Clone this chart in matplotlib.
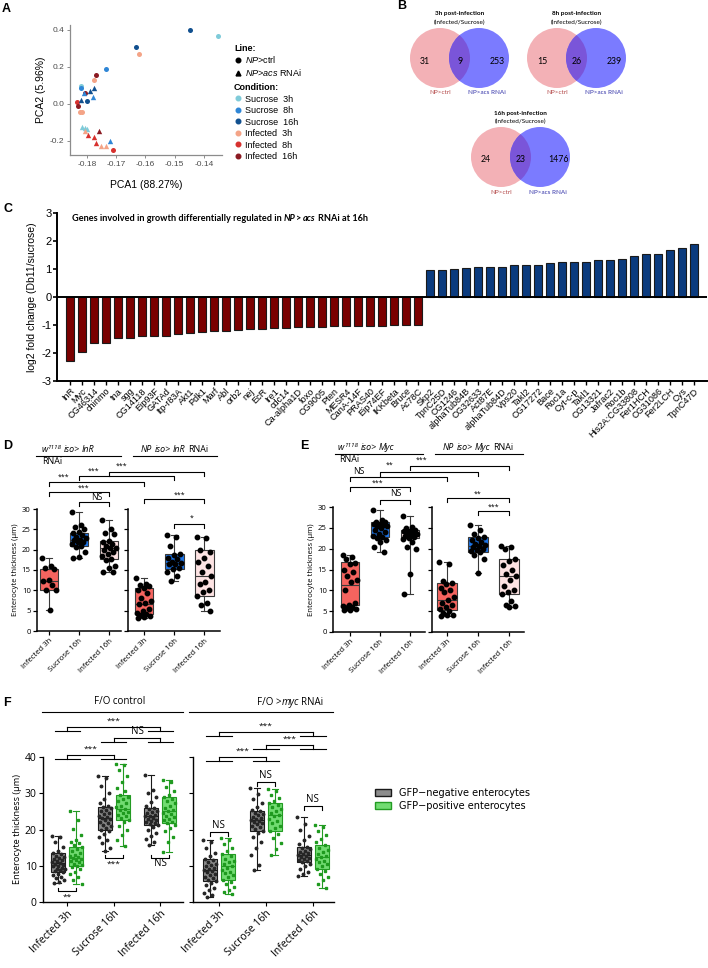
import numpy as np
import matplotlib
matplotlib.use('Agg')
import matplotlib.pyplot as plt
from matplotlib.lines import Line2D
from matplotlib.patches import Circle, Patch

plt.rcParams['font.family'] = ['Open Sans', 'DejaVu Sans']
plt.rcParams['axes.unicode_minus'] = False
plt.rcParams['mathtext.fontset'] = 'custom'
plt.rcParams['mathtext.rm'] = 'Liberation Sans'
plt.rcParams['mathtext.it'] = 'Liberation Sans:italic'
plt.rcParams['mathtext.bf'] = 'Liberation Sans:bold'

ARIAL = ['Liberation Sans', 'DejaVu Sans']
CALIBRI = ['Lato', 'DejaVu Sans']

# ---------------- data ----------------
# A: PCA
pca_conditions = ['Sucrose  3h', 'Sucrose  8h', 'Sucrose  16h',
                  'Infected  3h', 'Infected  8h', 'Infected  16h']
pca_colors = ['#7fcbd9', '#2f86d6', '#11508f', '#f4a487', '#d7312e', '#8b1a22']
ctrl_x = [-0.1448, -0.1631, -0.1799, -0.1351, -0.1819, -0.1734, -0.1822, -0.1622,
          -0.1777, -0.1823, -0.1818, -0.1834, -0.1711, -0.1768, -0.1805, -0.1829]
ctrl_y = [0.400, 0.306, 0.018, 0.369, 0.096, 0.189, 0.089, 0.270,
          0.130, -0.042, -0.042, 0.011, -0.250, 0.159, 0.060, -0.012]
ctrl_cond = [2, 2, 2, 0, 0, 1, 1, 3, 3, 3, 3, 4, 4, 5, 5, 5]
acs_x = [-0.1811, -0.1779, -0.1722, -0.1789, -0.1819, -0.1777, -0.1816, -0.1808,
         -0.1800, -0.1805, -0.1753, -0.1736, -0.1797, -0.1776, -0.1770, -0.1759]
acs_y = [0.060, 0.039, -0.200, 0.071, 0.024, 0.089, -0.124, -0.128,
         -0.133, -0.148, -0.229, -0.229, -0.166, -0.178, -0.211, -0.146]
acs_cond = [1, 1, 1, 2, 2, 2, 0, 0, 0, 3, 3, 3, 4, 4, 4, 5]

# B: Venn counts
venn_titles = ['3h post-infection', '8h post-infection', '16h post-infection']
venn_ctrl_only = [31, 15, 24]
venn_both = [9, 26, 23]
venn_acs_only = [253, 239, 1476]

# C: log2 fold change
genes = ['InR', 'Myc', 'CG46314', 'chinmo', 'tna', 'sgg', 'CG14118', 'Eip93F', 'GATAd',
         'Itp-r83A', 'Akt1', 'Pdk1', 'Marf', 'Abl', 'orb2', 'nej', 'EcR', 'Ire1', 'cdc14',
         'Ca-alpha1D', 'foxo', 'CG9005', 'Pten', 'MESR4', 'CanA-14F', 'PRAS40', 'Eip74EF',
         'IKKbeta', 'Bruce', 'Ac78C', 'Skp2', 'TpnC25D', 'CG1246', 'alphaTub84B', 'CG32633',
         'Act87E', 'alphaTub84D', 'Vps20', 'Takl2', 'CG17272', 'Bace', 'Roc1a', 'Cyt-c-p',
         'Takl1', 'CG13321', 'Jafrac2', 'Roc1b', 'His2A:CG33808', 'Fer1HCH', 'CG31086',
         'Fer2LCH', 'Cys', 'TpnC47D']
log2fc = [-2.29, -1.96, -1.65, -1.65, -1.45, -1.45, -1.41, -1.39, -1.38, -1.32, -1.29,
          -1.24, -1.22, -1.21, -1.18, -1.16, -1.15, -1.11, -1.09, -1.08, -1.08, -1.06,
          -1.05, -1.04, -1.04, -1.04, -1.03, -1.01, -1.01, -1.00,
          0.98, 0.98, 1.01, 1.05, 1.06, 1.06, 1.06, 1.13, 1.15, 1.16, 1.22, 1.24, 1.25,
          1.25, 1.31, 1.31, 1.36, 1.46, 1.55, 1.55, 1.69, 1.76, 1.91]

# D / E / F: enterocyte thickness
groups = ['Infected 3h', 'Sucrose 16h', 'Infected 16h']
box_colors = ['#f5645f', '#1c74e6', '#fde3e3']

d_ctrl_box = [(5.2, 10.0, 12.4, 15.2, 18.0), (18.0, 21.0, 22.3, 24.0, 29.2),
              (14.5, 17.8, 20.3, 22.2, 27.2)]
d_ctrl_pts = [[18.0, 16.1, 15.6, 15.2, 12.5, 12.2, 11.3, 10.1, 10.0, 5.2],
              [29.2, 26.0, 25.6, 25.0, 24.4, 24.0, 23.6, 23.1, 22.8, 22.5, 22.3, 22.0,
               21.8, 21.4, 21.0, 20.6, 19.5, 18.2, 18.0],
              [27.2, 25.0, 24.0, 23.9, 22.2, 22.0, 21.5, 21.0, 20.5, 20.3, 20.0, 19.5,
               18.9, 18.4, 17.8, 17.5, 16.0, 15.5, 14.6, 14.5]]
d_rnai_box = [(3.3, 4.3, 6.7, 10.5, 13.0), (12.2, 15.3, 16.8, 19.0, 23.5),
              (4.9, 8.7, 13.6, 19.8, 23.0)]
d_rnai_pts = [[13.0, 11.6, 11.4, 11.0, 10.5, 10.0, 9.4, 8.0, 7.5, 6.8, 6.7, 5.5, 5.0,
               4.5, 4.2, 4.0, 3.8, 3.5, 3.3],
              [23.5, 23.2, 21.0, 19.0, 18.6, 18.0, 17.8, 17.0, 16.8, 16.5, 16.4, 15.5,
               15.3, 14.6, 13.5, 12.2],
              [23.0, 22.8, 20.0, 19.5, 18.0, 17.0, 16.0, 14.5, 13.6, 12.0, 11.5, 10.0,
               9.5, 8.7, 7.0, 6.5, 4.9]]
e_ctrl_box = [(5.2, 6.5, 11.2, 16.7, 18.5), (19.2, 22.8, 25.5, 26.5, 29.2),
              (9.2, 22.5, 23.8, 24.5, 27.8)]
e_ctrl_pts = [[18.5, 18.0, 17.5, 16.5, 16.3, 15.0, 14.5, 13.5, 12.5, 12.0, 10.2, 7.0,
               6.5, 6.3, 6.0, 5.8, 5.5, 5.3, 5.2],
              [29.2, 27.0, 26.5, 26.3, 26.0, 26.0, 25.8, 25.5, 25.5, 25.0, 24.5, 24.0,
               23.5, 23.0, 22.8, 22.5, 22.0, 21.5, 20.5, 19.2],
              [27.8, 25.2, 25.0, 24.5, 24.3, 24.2, 24.0, 23.8, 23.5, 23.3, 23.0, 22.8,
               22.5, 22.3, 21.5, 20.5, 20.0, 14.0, 9.2]]
e_rnai_box = [(3.8, 5.2, 7.7, 11.8, 16.7), (14.1, 19.1, 20.6, 22.7, 25.8),
              (5.9, 9.1, 13.4, 17.5, 20.7)]
e_rnai_pts = [[16.7, 16.3, 12.2, 11.8, 11.5, 10.5, 10.0, 9.5, 8.5, 7.7, 7.0, 6.5, 6.0,
               5.5, 5.0, 4.5, 4.2, 4.0, 3.8],
              [25.8, 24.5, 23.5, 22.8, 22.5, 22.0, 21.5, 21.2, 21.0, 20.6, 20.5, 20.0,
               19.8, 19.5, 19.1, 18.5, 17.5, 14.1],
              [20.7, 20.5, 20.0, 17.5, 17.0, 16.0, 15.0, 14.0, 13.4, 12.5, 11.0, 10.0,
               9.5, 9.1, 7.5, 6.5, 6.2, 5.9]]

f_ctrl_neg_box = [(5.2, 8.2, 10.8, 13.5, 18.3), (14.2, 20.0, 23.2, 26.1, 34.7),
                  (15.8, 21.3, 23.6, 25.9, 34.9)]
f_ctrl_pos_box = [(5.1, 10.0, 12.1, 15.2, 25.2), (15.4, 22.7, 25.7, 29.4, 38.1),
                  (13.7, 21.8, 25.0, 29.0, 33.7)]
f_myc_neg_box = [(1.4, 5.7, 8.9, 12.0, 17.0), (8.7, 19.7, 22.7, 25.0, 31.4),
                 (7.1, 10.9, 13.1, 15.2, 23.4)]
f_myc_pos_box = [(2.2, 6.2, 9.8, 13.2, 17.7), (12.9, 19.5, 24.1, 27.3, 31.3),
                 (3.9, 9.1, 12.3, 15.6, 21.3)]
f_ctrl_neg_pts = [
    [18.3, 17.8, 16.5, 15.2, 14.0, 13.5, 13.2, 12.8, 12.5, 12.1, 11.8, 11.5, 11.2, 11.0,
     10.8, 10.6, 10.3, 10.0, 9.8, 9.5, 9.2, 9.0, 8.7, 8.5, 8.2, 7.8, 7.4, 6.9, 6.5, 6.0,
     5.6, 5.2],
    [34.7, 34.2, 32.0, 30.1, 28.5, 27.3, 26.4, 26.1, 25.8, 25.4, 25.0, 24.6, 24.2, 23.8,
     23.5, 23.2, 22.9, 22.5, 22.1, 21.7, 21.3, 20.9, 20.5, 20.0, 19.5, 18.8, 18.0, 17.1,
     16.2, 15.0, 14.2],
    [34.9, 30.8, 30.0, 28.9, 27.6, 26.5, 25.9, 25.6, 25.2, 24.8, 24.5, 24.1, 23.8, 23.6,
     23.3, 23.0, 22.7, 22.4, 22.1, 21.8, 21.5, 21.3, 20.8, 20.0, 19.1, 18.3, 17.4, 16.5,
     15.8]]
f_ctrl_pos_pts = [
    [25.2, 22.5, 20.1, 18.4, 17.0, 16.5, 16.2, 15.6, 15.2, 14.6, 14.0, 13.5, 13.0, 12.6,
     12.3, 12.1, 11.8, 11.5, 11.2, 10.9, 10.6, 10.3, 10.0, 9.6, 9.0, 8.4, 7.8, 7.0, 6.2,
     5.1],
    [38.1, 37.8, 36.5, 34.8, 33.0, 31.5, 30.5, 29.4, 29.0, 28.4, 27.8, 27.2, 26.6, 26.1,
     25.7, 25.3, 24.9, 24.5, 24.0, 23.6, 23.2, 22.7, 22.0, 21.0, 19.8, 18.5, 17.0, 15.4],
    [33.7, 33.0, 31.8, 30.5, 29.6, 29.0, 28.5, 27.9, 27.2, 26.6, 26.0, 25.5, 25.0, 24.6,
     24.2, 23.8, 23.4, 23.0, 22.6, 22.2, 21.8, 21.2, 20.4, 19.5, 18.0, 16.5, 13.7]]
f_myc_neg_pts = [
    [17.0, 16.5, 14.8, 13.5, 12.6, 12.0, 11.6, 11.1, 10.6, 10.2, 9.8, 9.4, 9.1, 8.9, 8.6,
     8.2, 7.8, 7.4, 7.0, 6.6, 6.2, 5.7, 5.2, 4.6, 4.0, 3.3, 2.6, 2.0, 1.4],
    [31.4, 29.8, 28.4, 27.2, 26.3, 25.4, 25.0, 24.6, 24.2, 23.9, 23.5, 23.2, 22.9, 22.7,
     22.4, 22.1, 21.8, 21.4, 21.0, 20.6, 20.2, 19.7, 18.9, 17.8, 16.5, 14.9, 13.0, 10.2,
     8.7],
    [23.4, 21.6, 19.8, 18.2, 17.0, 16.1, 15.2, 14.9, 14.5, 14.2, 13.9, 13.6, 13.3, 13.1,
     12.8, 12.5, 12.2, 11.9, 11.6, 11.2, 10.9, 10.4, 9.8, 9.1, 8.4, 7.7, 7.1]]
f_myc_pos_pts = [
    [17.7, 17.2, 16.0, 15.0, 14.1, 13.2, 12.6, 12.0, 11.4, 10.9, 10.4, 9.8, 9.3, 8.8,
     8.3, 7.9, 7.4, 6.8, 6.2, 5.6, 4.9, 4.1, 3.4, 2.7, 2.2],
    [31.3, 30.6, 29.5, 28.6, 27.8, 27.3, 26.8, 26.2, 25.6, 25.1, 24.6, 24.1, 23.6, 23.0,
     22.4, 21.8, 21.1, 20.4, 19.5, 18.7, 17.6, 16.2, 14.5, 12.9],
    [21.3, 20.8, 19.6, 18.5, 17.4, 16.5, 15.6, 15.0, 14.4, 13.8, 13.3, 12.8, 12.3, 11.9,
     11.4, 10.9, 10.4, 9.9, 9.1, 8.5, 7.8, 7.0, 6.0, 5.0, 3.9]]

# ---------------- figure ----------------
W, H = 708, 968
fig = plt.figure(figsize=(W / 100, H / 100), dpi=100)


def rect(x0, y0, x1, y1):
    return [x0 / W, 1 - y1 / H, (x1 - x0) / W, (y1 - y0) / H]


# overlay in pixel units for annotations
ov = fig.add_axes([0, 0, 1, 1], zorder=10)
ov.set_xlim(0, W)
ov.set_ylim(H, 0)
ov.axis('off')


def xpix(ax, x):
    return ov.transData.inverted().transform(ax.transData.transform((x, 0)))[0]


def rich(x, y, parts, **kw):
    # parts: (text, style, gap in points, superscript?)
    s0, st0 = parts[0][0], parts[0][1]
    base = ov.text(x, y, s0, va='bottom', ha='left', **{**kw, **st0})
    t = base
    for s, st, gap, sup in parts[1:]:
        yfrac = 0.45 if sup else 0
        t = ov.annotate(s, xy=(1, yfrac), xycoords=(t, base), xytext=(gap, 0),
                        textcoords='offset points', va='bottom', ha='left',
                        **{**kw, **st})
    return t


def bracket(x1, x2, y, text, tx, ty, fs=6, tick=3.5, up=False):
    d = -tick if up else tick
    ov.plot([x1, x1, x2, x2], [y + d, y, y, y + d], color='k', lw=0.8)
    ov.text(tx, ty, text, ha='center', va='center', fontsize=fs)


def panel_letter(x, y, s):
    ov.text(x, y, s, fontsize=9, fontweight='bold', family=ARIAL, va='top', ha='left')


panel_letter(2, 3, 'A')
panel_letter(397, 0, 'B')
panel_letter(3, 203, 'C')
panel_letter(3, 440, 'D')
panel_letter(300, 440, 'E')
panel_letter(3, 697, 'F')

# ---- A ----
axA = fig.add_axes(rect(70, 25, 222, 155))
for i in range(len(ctrl_x)):
    axA.scatter(ctrl_x[i], ctrl_y[i], s=13, marker='o', color=pca_colors[ctrl_cond[i]],
                linewidths=0, zorder=3)
for i in range(len(acs_x)):
    axA.scatter(acs_x[i], acs_y[i], s=15, marker='^', color=pca_colors[acs_cond[i]],
                linewidths=0, zorder=3)
axA.set_xlim(-0.1858, -0.1338)
axA.set_ylim(-0.276, 0.427)
axA.set_xticks([-0.18, -0.17, -0.16, -0.15, -0.14])
axA.set_xticklabels(['-0.18', '-0.17', '-0.16', '-0.15', '-0.14'])
axA.set_yticks([-0.2, 0.0, 0.2, 0.4])
axA.set_yticklabels(['-0.2', '0.0', '0.2', '0.4'])
for sp in ['top', 'right']:
    axA.spines[sp].set_visible(False)
for sp in ['left', 'bottom']:
    axA.spines[sp].set_color('#8c8c8c')
    axA.spines[sp].set_linewidth(0.9)
axA.tick_params(length=2.5, width=0.7, color='#8c8c8c', labelsize=6, labelcolor='#4d4d4d', pad=1.5)
for lab in axA.get_xticklabels() + axA.get_yticklabels():
    lab.set_family(ARIAL)
axA.set_xlabel('PCA1 (88.27%)', family=ARIAL, fontsize=7.5, labelpad=9)
axA.set_ylabel('PCA2 (5.96%)', family=ARIAL, fontsize=7.5, labelpad=3)

line_handles = [Line2D([], [], marker='o', ls='', color='k', markersize=3.3),
                Line2D([], [], marker='^', ls='', color='k', markersize=3.5)]
leg1 = fig.legend(line_handles, [r'$\it{NP}$>ctrl', r'$\it{NP}$>$\it{acs}$ RNAi'],
                  title='Line:', loc='upper left', bbox_to_anchor=(234 / W, 1 - 44 / H),
                  frameon=False, prop={'family': ARIAL, 'size': 6.5},
                  title_fontproperties={'family': ARIAL, 'size': 6.5, 'weight': 'bold'},
                  handlelength=0.9, handletextpad=0.3, borderpad=0, borderaxespad=0,
                  labelspacing=0.2, alignment='left')
leg1._legend_box.sep = 1
cond_handles = [Line2D([], [], marker='o', ls='', color=c, markersize=3.3) for c in pca_colors]
leg2 = fig.legend(cond_handles, pca_conditions, title='Condition:', loc='upper left',
                  bbox_to_anchor=(234 / W, 1 - 83 / H), frameon=False,
                  prop={'family': ARIAL, 'size': 6.5},
                  title_fontproperties={'family': ARIAL, 'size': 6.5, 'weight': 'bold'},
                  handlelength=0.9, handletextpad=0.3, borderpad=0, borderaxespad=0,
                  labelspacing=0.28, alignment='left')

# ---- B ----
venn_left = [(440, 58), (557, 58), (501, 157)]
for k in range(3):
    cx, cy = venn_left[k]
    c1 = Circle((cx, cy), 30, fc='#f3b1b6', lw=0)
    c2 = Circle((cx + 39, cy), 30, fc='#7b7bff', lw=0)
    c3 = Circle((cx, cy), 30, fc='#7a55d9', lw=0)
    ov.add_patch(c1)
    ov.add_patch(c2)
    ov.add_patch(c3)
    c3.set_clip_path(c2)
    ov.text(cx + 19.5, cy - 44, venn_titles[k], ha='center', va='center', fontsize=4.6,
            fontweight='bold', family=CALIBRI)
    ov.text(cx + 19.5, cy - 36, '(Infected/Sucrose)', ha='center', va='center',
            fontsize=4.6, family=CALIBRI)
    ov.text(cx - 15, cy + 3, str(venn_ctrl_only[k]), ha='center', va='center', fontsize=6.3,
            family=CALIBRI)
    ov.text(cx + 20, cy + 3, str(venn_both[k]), ha='center', va='center', fontsize=6.3,
            family=CALIBRI)
    ov.text(cx + 57, cy + 3, str(venn_acs_only[k]), ha='center', va='center', fontsize=6.3,
            family=CALIBRI)
    ov.text(cx, cy + 35, 'NP>ctrl', ha='center', va='center', fontsize=4.6,
            color='#b44a4a', family=CALIBRI)
    ov.text(cx + 47, cy + 35, 'NP>acs RNAi', ha='center', va='center', fontsize=4.6,
            color='#3232a8', family=CALIBRI)

# ---- C ----
axC = fig.add_axes(rect(57, 213, 707, 381))
xC = np.arange(len(genes))
colC = ['#7a0000' if v < 0 else '#0b3b7e' for v in log2fc]
axC.bar(xC, log2fc, width=0.72, color=colC, edgecolor='#1a1a1a', linewidth=0.8, zorder=2)
axC.axhline(0, color='k', lw=1.4, zorder=3)
axC.set_xlim(-1.08, 53.08)
axC.set_ylim(-3, 3)
axC.set_yticks(range(-3, 4))
axC.set_xticks(xC)
axC.set_xticklabels(genes, rotation=45, ha='right', rotation_mode='anchor', fontsize=6.6,
                    family=ARIAL)
for lab in axC.get_yticklabels():
    lab.set_family(ARIAL)
axC.tick_params(axis='y', labelsize=8, length=3, width=1.2, pad=1)
axC.tick_params(axis='x', length=3, width=1, pad=1)
for sp in ['top', 'right']:
    axC.spines[sp].set_visible(False)
for sp in ['left', 'bottom']:
    axC.spines[sp].set_linewidth(1.4)
axC.set_ylabel('log2 fold change (Db11/sucrose)', family=ARIAL, fontsize=7.5, labelpad=3)
rich(72, 223, [('Genes involved in growth differentially regulated in', {'fontweight': 'bold'}),
               ('NP', {'fontweight': 'bold', 'fontstyle': 'italic'}, 1.6, False),
               ('>', {'fontweight': 'bold'}, 0, False),
               ('acs', {'fontweight': 'bold', 'fontstyle': 'italic'}, 1.6, False),
               ('RNAi at 16h', {'fontweight': 'bold'}, 1.6, False)],
     fontsize=6.6, family=CALIBRI)


# ---- box plot helpers ----
def spread(n, w):
    return (((np.arange(n) * 0.618034) % 1.0) - 0.5) * w


def draw_boxes(ax, positions, stats, faces, edges, width, capw):
    for p, s, fc, ec in zip(positions, stats, faces, edges):
        st = dict(whislo=s[0], q1=s[1], med=s[2], q3=s[3], whishi=s[4], fliers=[])
        ax.bxp([st], positions=[p], widths=width, capwidths=capw, patch_artist=True,
               showfliers=False, manage_ticks=False,
               boxprops=dict(facecolor=fc, edgecolor=ec, linewidth=0.8),
               medianprops=dict(color=ec, linewidth=0.8),
               whiskerprops=dict(color=ec, linewidth=0.8),
               capprops=dict(color=ec, linewidth=0.8))


def style_thick(ax, ylabel, ticklabels, fs_tick, fs_lab, ymax, ystep, lw=1.1):
    ax.set_ylim(0, ymax)
    ax.set_yticks(np.arange(0, ymax + 0.1, ystep))
    for sp in ['top', 'right']:
        ax.spines[sp].set_visible(False)
    for sp in ['left', 'bottom']:
        ax.spines[sp].set_linewidth(lw)
    ax.tick_params(labelsize=fs_tick, length=3, width=lw * 0.8, pad=1.5)
    ax.set_xticks(range(len(groups)))
    ax.set_xticklabels(groups, rotation=45, ha='right', rotation_mode='anchor')
    if ylabel:
        ax.set_ylabel('Enterocyte thickness (µm)', fontsize=fs_lab, labelpad=2)
    if not ticklabels:
        ax.set_yticklabels([])


def de_panel(ax, stats, pts, xlim, ylabel):
    draw_boxes(ax, range(3), stats, box_colors, ['#3a3a3a'] * 3, 0.62, 0.22)
    for i, vals in enumerate(pts):
        ax.plot(i + spread(len(vals), 0.5), vals, 'o', color='k', markersize=3.2, zorder=5)
    ax.set_xlim(*xlim)
    style_thick(ax, ylabel, ylabel, 5.6, 5.6, 30, 5)


# ---- D ----
axD1 = fig.add_axes(rect(37, 509, 121, 631))
de_panel(axD1, d_ctrl_box, d_ctrl_pts, (-0.4, 2.4), True)
axD2 = fig.add_axes(rect(128, 509, 219.5, 631))
de_panel(axD2, d_rnai_box, d_rnai_pts, (-0.53, 2.5), False)

# ---- E ----
axE1 = fig.add_axes(rect(333, 507, 425, 632))
de_panel(axE1, e_ctrl_box, e_ctrl_pts, (-0.57, 2.5), True)
axE2 = fig.add_axes(rect(432, 507, 524, 632))
de_panel(axE2, e_rnai_box, e_rnai_pts, (-0.48, 2.48), False)

it = {'fontstyle': 'italic'}
no = {}
for (x0, gene, axl, axr, lx0, lx1, rx0, rx1, y0) in [
        (41, 'InR', axD1, axD2, 36, 121, 133, 217, 456),
        (338, 'Myc', axE1, axE2, 335, 423, 435, 523, 454)]:
    rich(x0, y0 - 1.5, [('w', it), ('1118', {'fontstyle': 'italic', 'fontsize': 4.6}, 0, True),
                        ('iso>', it, 1.6, False), (gene, it, 1.6, False)], fontsize=6.4)
    ov.plot([lx0, lx1], [y0, y0], color='k', lw=0.8)
    ov.text(x0 + 1, y0 + 6, 'RNAi', fontsize=6.4, va='center', ha='left')
    rich(rx0 + 8, y0 - 1.5,
         [('NP', it), ('iso>', it, 1.6, False), (gene, it, 1.6, False),
          ('RNAi', no, 1.6, False)], fontsize=6.4)
    ov.plot([rx0, rx1], [y0, y0], color='k', lw=0.8)

# D brackets
bracket(xpix(axD1, 0), xpix(axD2, 0), 482, '***', 64, 477, fs=5)
bracket(xpix(axD1, 1), xpix(axD2, 1), 476, '***', 93, 471, fs=5)
bracket(xpix(axD1, 2), xpix(axD2, 2), 472, '***', 121, 466, fs=5)
bracket(xpix(axD1, 0), xpix(axD1, 2), 492, '***', 83, 488, fs=5)
bracket(xpix(axD1, 1), xpix(axD1, 2), 502, 'NS', 97, 497, fs=6.2)
bracket(xpix(axD2, 0), xpix(axD2, 2), 499, '***', 180, 495, fs=5)
bracket(xpix(axD2, 1), xpix(axD2, 2), 524, '*', 192, 518, fs=5)
# E brackets
bracket(xpix(axE1, 2), xpix(axE2, 2), 466, '***', 422, 460, fs=5)
bracket(xpix(axE1, 1), xpix(axE2, 1), 472, '**', 390, 465, fs=5)
bracket(xpix(axE1, 0), xpix(axE2, 0), 477, 'NS', 359, 472, fs=6.2)
bracket(xpix(axE1, 0), xpix(axE1, 2), 487, '***', 378, 483, fs=5)
bracket(xpix(axE1, 1), xpix(axE1, 2), 500, 'NS', 396, 494, fs=6.2)
bracket(xpix(axE2, 0), xpix(axE2, 2), 498, '**', 478, 494, fs=5)
bracket(xpix(axE2, 1), xpix(axE2, 2), 511, '***', 493, 507, fs=5)

# ---- F ----
NEG_FC, NEG_EC, NEG_PT = '#8c8c8c', '#1a1a1a', '#262626'
POS_FC, POS_EC, POS_PT = '#72dc72', '#239b23', '#1f9a1f'
OFF = 0.19


def f_panel(ax, neg_box, pos_box, neg_pts, pos_pts, xlim, ylabel):
    pos = np.arange(3)
    draw_boxes(ax, pos - OFF, neg_box, [NEG_FC] * 3, [NEG_EC] * 3, 0.3, 0.13)
    draw_boxes(ax, pos + OFF, pos_box, [POS_FC] * 3, [POS_EC] * 3, 0.3, 0.13)
    for i in range(3):
        ax.plot(i - OFF + spread(len(neg_pts[i]), 0.28), neg_pts[i], 'o', color=NEG_PT,
                markersize=1.8, zorder=5)
        ax.plot(i + OFF + spread(len(pos_pts[i]), 0.28), pos_pts[i], 's', color=POS_PT,
                markersize=1.7, zorder=5)
    ax.set_xlim(*xlim)
    style_thick(ax, ylabel, ylabel, 7.5, 6.6, 40, 10, lw=1.0)
    ax.tick_params(axis='x', labelsize=7.5)


axF1 = fig.add_axes(rect(43, 757, 183, 902))
f_panel(axF1, f_ctrl_neg_box, f_ctrl_pos_box, f_ctrl_neg_pts, f_ctrl_pos_pts,
        (-0.52, 2.49), True)
axF2 = fig.add_axes(rect(193, 757, 334, 902))
f_panel(axF2, f_myc_neg_box, f_myc_pos_box, f_myc_neg_pts, f_myc_pos_pts,
        (-0.55, 2.45), False)

ov.text(120, 702, 'F/O control', ha='center', va='center', fontsize=7)
ov.plot([42, 183], [712, 712], color='k', lw=0.8)
rich(257, 708, [('F/O', no), ('>', no, 1.8, False), ('myc', it, 0, False),
                ('RNAi', no, 1.8, False)], fontsize=7)
ov.plot([189, 333], [712, 712], color='k', lw=0.8)


def group_bracket(ax, ca, cb, ytop, text, fs):
    ylow = ytop + 4
    for c in (ca, cb):
        ov.plot([xpix(ax, c - 0.27), xpix(ax, c + 0.27)], [ylow, ylow], color='k', lw=0.8)
        ov.plot([xpix(ax, c), xpix(ax, c)], [ylow, ytop], color='k', lw=0.8)
    ov.plot([xpix(ax, ca), xpix(ax, cb)], [ytop, ytop], color='k', lw=0.8)
    ov.text((xpix(ax, ca) + xpix(ax, cb)) / 2, ytop - 6, text, ha='center', va='center',
            fontsize=fs)


group_bracket(axF1, 0, 2, 727, '***', 6)
group_bracket(axF1, 1, 2, 738, 'NS', 7)
group_bracket(axF1, 0, 1, 755, '***', 6)
group_bracket(axF2, 0, 2, 732, '***', 6)
group_bracket(axF2, 1, 2, 745, '***', 6)
group_bracket(axF2, 0, 1, 757, '***', 6)


def pair_bracket(ax, c, y, text, fs, up):
    x1, x2 = xpix(ax, c - OFF), xpix(ax, c + OFF)
    ty = y + 6 if up else y - 7
    bracket(x1, x2, y, text, (x1 + x2) / 2, ty, fs=fs, tick=3.5, up=up)


pair_bracket(axF1, 0, 891, '**', 6, True)
pair_bracket(axF1, 1, 858, '***', 6, True)
pair_bracket(axF1, 2, 858, 'NS', 7, True)
pair_bracket(axF2, 0, 832, 'NS', 7, False)
pair_bracket(axF2, 1, 782, 'NS', 7, False)
pair_bracket(axF2, 2, 806, 'NS', 7, False)

legF = fig.legend([Patch(facecolor=NEG_FC, edgecolor=NEG_EC, linewidth=1),
                   Patch(facecolor=POS_FC, edgecolor=POS_EC, linewidth=1)],
                  ['GFP\u2212negative enterocytes', 'GFP\u2212positive enterocytes'],
                  loc='upper left', bbox_to_anchor=(375 / W, 1 - 788 / H), frameon=False,
                  prop={'family': 'DejaVu Sans', 'size': 7}, handlelength=1.6,
                  handleheight=0.8, handletextpad=0.9, labelspacing=0.3, borderpad=0,
                  borderaxespad=0)

fig.savefig('out.png', dpi=100)
